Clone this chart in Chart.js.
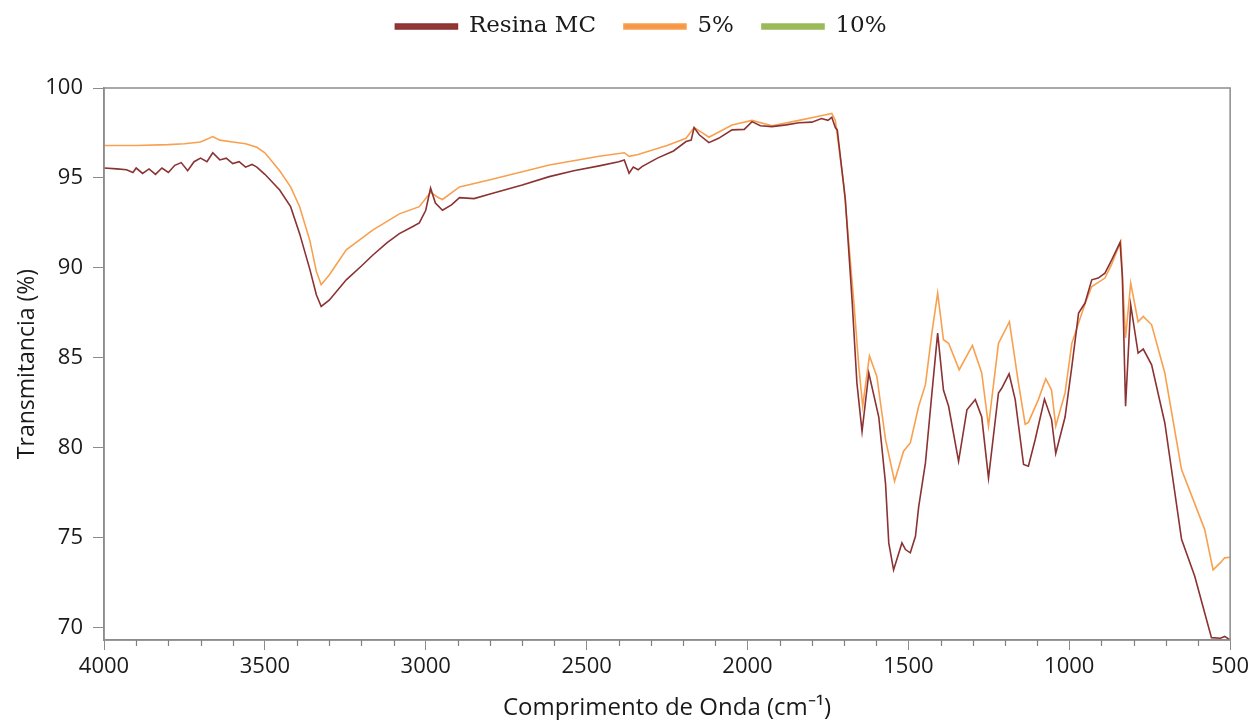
<!DOCTYPE html>
<html>
<head>
<meta charset="utf-8">
<script src="https://cdn.jsdelivr.net/npm/chart.js@4"></script>
<style>
  html, body { margin: 0; padding: 0; background: #fff; }
  #wrap { width: 1253px; height: 720px; }
</style>
</head>
<body>
<div id="wrap"><canvas id="ftir" width="1253" height="720"></canvas></div>
<script>
var seriesNames = ["Resina MC", "5%", "10%"];

// Resina MC
var resinaWn = [4000, 3960, 3930, 3910, 3900, 3880, 3860, 3840, 3820, 3800, 3780, 3760, 3740, 3720, 3700, 3680, 3662, 3640, 3620, 3600, 3580, 3560, 3540, 3525, 3500,
  3454, 3420, 3392, 3360, 3340, 3325, 3300, 3247, 3200, 3165, 3120, 3082, 3040, 3020, 3000, 2985, 2970, 2948, 2920, 2895, 2850, 2800, 2700, 2616, 2540, 2461,
  2400, 2383, 2368, 2355, 2340, 2328, 2280, 2230, 2191, 2175, 2166, 2150, 2120, 2090, 2048, 2010, 1986, 1960, 1924, 1880, 1840, 1800, 1770, 1750, 1738, 1727,
  1721, 1696, 1675, 1660, 1644, 1623, 1592, 1571, 1561, 1546, 1520, 1509, 1494, 1478, 1468, 1447, 1427, 1409, 1391, 1375, 1344, 1318, 1292, 1272, 1251, 1220,
  1210, 1187, 1168, 1142, 1127, 1106, 1077, 1055, 1042, 1013, 992, 971, 951, 930, 910, 889, 868, 842, 835, 825, 809, 786, 770, 744, 703, 651, 610, 579, 558, 530, 517, 500];
var resinaT = [95.55, 95.5, 95.45, 95.3, 95.55, 95.25, 95.5, 95.2, 95.55, 95.3, 95.7, 95.85, 95.4, 95.9, 96.1, 95.9, 96.4, 96.0, 96.1, 95.8, 95.9, 95.6, 95.75, 95.6, 95.2,
  94.33, 93.4, 91.9, 89.9, 88.5, 87.85, 88.2, 89.33, 90.1, 90.7, 91.4, 91.9, 92.3, 92.5, 93.2, 94.43, 93.6, 93.2, 93.5, 93.9, 93.85, 94.1, 94.6, 95.07, 95.4, 95.67,
  95.9, 96.0, 95.26, 95.6, 95.45, 95.63, 96.1, 96.5, 97.02, 97.1, 97.8, 97.4, 96.96, 97.2, 97.67, 97.7, 98.13, 97.9, 97.85, 97.95, 98.07, 98.1, 98.3, 98.2, 98.37, 97.8,
  97.67, 93.8, 88.2, 83.6, 80.9, 84.15, 81.7, 78.0, 74.7, 73.2, 74.7, 74.33, 74.15, 75.07, 76.7, 79.15, 83.0, 86.37, 83.2, 82.3, 79.24, 82.1, 82.67, 81.7, 78.3, 83.04,
  83.3, 84.1, 82.67, 79.06, 78.96, 80.44, 82.7, 81.56, 79.67, 81.7, 84.5, 87.48, 88.04, 89.33, 89.43, 89.7, 90.44, 91.41, 89.5, 82.3, 87.94, 85.26, 85.48, 84.6, 81.37, 74.9, 72.85, 70.8, 69.43, 69.4, 69.5, 69.3];

// 5%
var pct5Wn = [4000, 3900, 3800, 3750, 3700, 3662, 3640, 3600, 3560, 3525, 3500, 3454, 3420, 3392, 3360, 3340, 3325, 3300, 3247, 3165, 3082, 3020, 2985, 2960, 2948,
  2895, 2800, 2616, 2461, 2383, 2368, 2340, 2328, 2250, 2191, 2166, 2140, 2120, 2048, 1986, 1924, 1840, 1760, 1738, 1727, 1700, 1670, 1654, 1642, 1621, 1598, 1571,
  1543, 1515, 1494, 1468, 1447, 1427, 1409, 1391, 1375, 1342, 1301, 1272, 1251, 1220, 1186, 1158, 1137, 1127, 1096, 1073, 1055, 1042, 1013, 992, 951, 930, 889, 868,
  840, 825, 809, 786, 770, 744, 703, 651, 599, 579, 553, 530, 517, 500];
var pct5T = [96.8, 96.8, 96.85, 96.9, 97.0, 97.3, 97.1, 97.0, 96.9, 96.7, 96.4, 95.4, 94.5, 93.4, 91.5, 89.8, 89.06, 89.6, 91.0, 92.1, 93.0, 93.4, 94.2, 93.9, 93.8,
  94.5, 94.9, 95.72, 96.2, 96.4, 96.2, 96.3, 96.37, 96.8, 97.2, 97.8, 97.5, 97.26, 97.94, 98.2, 97.9, 98.2, 98.5, 98.59, 98.2, 94.5, 88.2, 84.5, 82.3, 85.1, 83.96, 80.44,
  78.13, 79.8, 80.26, 82.3, 83.5, 86.37, 88.6, 86.0, 85.8, 84.33, 85.68, 84.15, 81.2, 85.8, 87.0, 83.6, 81.3, 81.4, 82.67, 83.83, 83.2, 81.2, 83.04, 85.8, 88.0, 88.96, 89.43, 90.2,
  91.46, 86.1, 89.15, 87.0, 87.3, 86.83, 84.15, 78.78, 76.37, 75.44, 73.2, 73.6, 73.87, 73.9];

// 10% (not visible in the reference plot)
var pct10Wn = [];
var pct10T = [];

var xTicks = [4000, 3500, 3000, 2500, 2000, 1500, 1000, 500];
var xMinorStep = 100;
var yTicks = [70, 75, 80, 85, 90, 95, 100];

function toPoints(xs, ys) {
  var pts = [];
  for (var i = 0; i < xs.length; i++) {
    pts.push({ x: xs[i], y: ys[i] });
  }
  return pts;
}

// box round the plot, short minor ticks, legend nudged into place
var frameBox = {
  id: 'frameBox',
  afterLayout: function (chart) {
    var lg = chart.legend;
    if (lg) {
      lg.left += 25; lg.right += 25;
      lg.top -= 13; lg.bottom -= 13;
    }
  },
  afterDraw: function (chart) {
    var a = chart.chartArea;
    var ctx = chart.ctx;
    var xs = chart.scales.x;
    ctx.save();
    ctx.strokeStyle = '#8c8c8c';
    ctx.lineWidth = 1.5;
    ctx.strokeRect(a.left, a.top, a.right - a.left, a.bottom - a.top);
    ctx.strokeStyle = '#808080';
    ctx.lineWidth = 1.2;
    ctx.beginPath();
    for (var v = 4000; v >= 500; v -= xMinorStep) {
      if (xTicks.indexOf(v) >= 0) continue;
      var px = Math.round(xs.getPixelForValue(v)) + 0.5;
      ctx.moveTo(px, a.bottom);
      ctx.lineTo(px, a.bottom + 6);
    }
    ctx.stroke();
    ctx.restore();
  }
};

var ctx = document.getElementById('ftir').getContext('2d');
var chart = new Chart(ctx, {
  type: 'line',
  data: {
    datasets: [
      { label: seriesNames[0], data: toPoints(resinaWn, resinaT), borderColor: '#8B3232', backgroundColor: '#943634', borderWidth: 1.6 },
      { label: seriesNames[1], data: toPoints(pct5Wn, pct5T), borderColor: '#F9A04F', backgroundColor: '#F79646', borderWidth: 1.6 },
      { label: seriesNames[2], data: toPoints(pct10Wn, pct10T), borderColor: '#9BBB59', backgroundColor: '#9BBB59', borderWidth: 1.6 }
    ]
  },
  options: {
    responsive: false,
    animation: false,
    parsing: false,
    elements: { point: { radius: 0 }, line: { tension: 0 } },
    layout: { padding: { left: 0, right: 21, top: 0, bottom: 0 } },
    plugins: {
      tooltip: { enabled: false },
      legend: {
        position: 'top',
        labels: {
          font: { family: 'DejaVu Serif', size: 23 },
          color: '#1a1a1a',
          boxWidth: 62,
          boxHeight: 5,
          padding: 28
        }
      }
    },
    scales: {
      x: {
        type: 'linear',
        reverse: true,
        min: 500,
        max: 4000,
        afterFit: function (s) { s.height = 80; },
        afterBuildTicks: function (s) {
          s.ticks = xTicks.map(function (v) { return { value: v }; });
        },
        ticks: {
          autoSkip: false,
          maxRotation: 0,
          font: { family: 'Open Sans', size: 22 },
          color: '#1a1a1a',
          padding: 4,
          callback: function (v) { return String(v); }
        },
        grid: { drawOnChartArea: false, color: '#8c8c8c', tickLength: 10 },
        border: { color: '#8c8c8c', width: 1.5 },
        title: {
          display: true,
          text: 'Comprimento de Onda (cm⁻¹)',
          font: { family: 'Open Sans', size: 24, lineHeight: 1.0 },
          color: '#1a1a1a',
          padding: { top: 6, bottom: 0 }
        }
      },
      y: {
        min: 69.3,
        max: 100,
        afterFit: function (s) { s.width = 104; },
        afterBuildTicks: function (s) {
          s.ticks = yTicks.map(function (v) { return { value: v }; });
        },
        ticks: {
          font: { family: 'Open Sans', size: 22 },
          color: '#1a1a1a',
          padding: 10,
          callback: function (v) { return String(v); }
        },
        grid: { drawOnChartArea: false, color: '#8c8c8c', tickLength: 11 },
        border: { color: '#8c8c8c', width: 1.5 },
        title: {
          display: true,
          text: 'Transmitancia (%)',
          font: { family: 'Open Sans', size: 23 },
          color: '#1a1a1a',
          padding: { top: 14, bottom: 4 }
        }
      }
    }
  },
  plugins: [frameBox]
});

// make the legend band 88px tall so the plot starts where it does in the picture
var origFit = chart.legend.fit;
chart.legend.fit = function () {
  origFit.call(this);
  this.height = 88;
};
chart.update();
</script>
</body>
</html>
